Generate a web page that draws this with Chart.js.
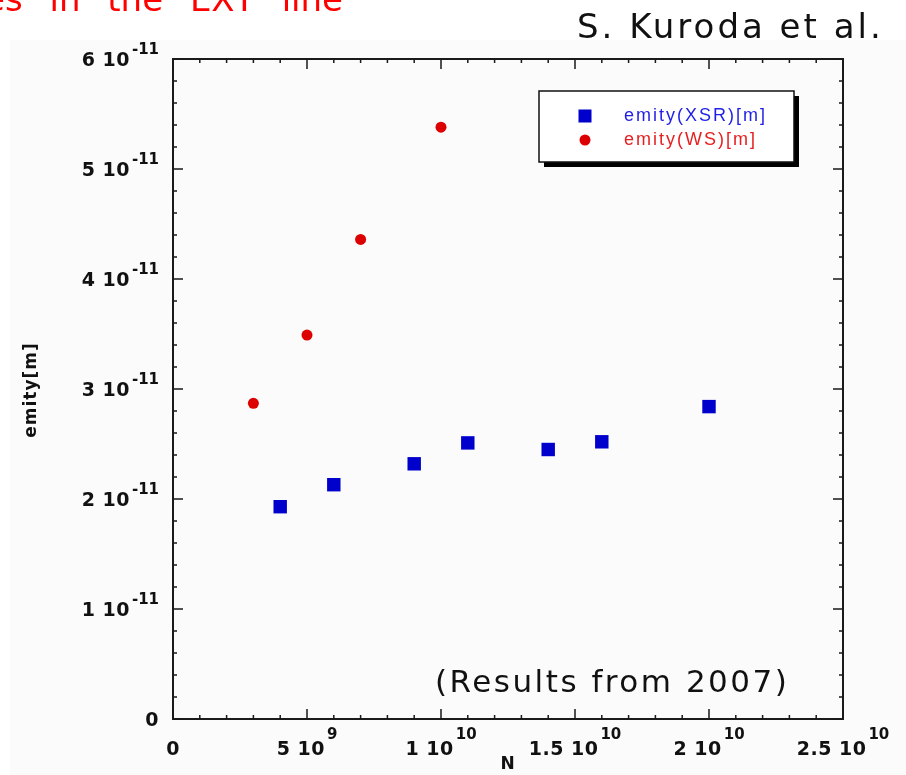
<!DOCTYPE html>
<html>
<head>
<meta charset="utf-8">
<script src="https://cdn.jsdelivr.net/npm/chart.js@4"></script>
<style>
  body { margin: 0; background: #fff; }
</style>
</head>
<body>
<canvas id="emitChart" width="906" height="775"></canvas>
<script>
// emittance vs bunch population
const xsrN = [4e9, 6e9, 9e9, 1.1e10, 1.4e10, 1.6e10, 2e10];
const xsrEmit = [1.93e-11, 2.13e-11, 2.32e-11, 2.51e-11, 2.45e-11, 2.52e-11, 2.84e-11];
const wsN = [3e9, 5e9, 7e9, 1e10];
const wsEmit = [2.87e-11, 3.49e-11, 4.36e-11, 5.38e-11];

const seriesLabels = ['emity(XSR)[m]', 'emity(WS)[m]'];

const xTicks = [0, 5e9, 1e10, 1.5e10, 2e10, 2.5e10];
const xTickLabels = [['0', ''], ['5 10', '9'], ['1 10', '10'], ['1.5 10', '10'], ['2 10', '10'], ['2.5 10', '10']];
const yTicks = [0, 1e-11, 2e-11, 3e-11, 4e-11, 5e-11, 6e-11];
const yTickLabels = [['0', ''], ['1 10', '-11'], ['2 10', '-11'], ['3 10', '-11'], ['4 10', '-11'], ['5 10', '-11'], ['6 10', '-11']];

const MAIN_FONT = 'bold 19px "DejaVu Sans"';
const SUP_FONT = 'bold 15px "DejaVu Sans"';

function textWidth(ctx, s, font, spacing) {
  ctx.font = font;
  ctx.letterSpacing = spacing;
  return ctx.measureText(s).width;
}

// "6 10^-11" style label; x is the right edge (align 'right') or the centre
function drawSciLabel(ctx, main, sup, x, y, supY, align) {
  const wm = textWidth(ctx, main, MAIN_FONT, '0.5px');
  const ws = sup ? textWidth(ctx, sup, SUP_FONT, '0px') + 2 : 0;
  const total = wm + ws;
  const left = align === 'right' ? x - total : x - total / 2;
  ctx.fillStyle = '#111';
  ctx.textAlign = 'left';
  ctx.textBaseline = 'alphabetic';
  ctx.font = MAIN_FONT;
  ctx.letterSpacing = '0.5px';
  ctx.fillText(main, left, y);
  if (sup) {
    ctx.font = SUP_FONT;
    ctx.letterSpacing = '0px';
    ctx.fillText(sup, left + wm + 2, supY);
  }
  ctx.letterSpacing = '0px';
}

const framePlugin = {
  id: 'frame',
  beforeDraw(chart) {
    const ctx = chart.ctx;
    ctx.save();
    ctx.fillStyle = '#fbfbfb';
    ctx.fillRect(10, 40, chart.width - 10, chart.height - 40);
    ctx.restore();
  },
  afterDatasetsDraw(chart) {
    const { ctx, chartArea: a, scales: { x, y } } = chart;
    ctx.save();
    ctx.strokeStyle = '#1a1a1a';
    ctx.lineWidth = 2;
    ctx.strokeRect(a.left, a.top, a.right - a.left, a.bottom - a.top);

    // inward ticks on all four sides
    ctx.lineWidth = 1.5;
    ctx.beginPath();
    for (let i = 0; i <= 25; i++) {
      const px = x.getPixelForValue(i * 1e9);
      const len = i % 5 === 0 ? 10 : 4;
      ctx.moveTo(px, a.bottom); ctx.lineTo(px, a.bottom - len);
      ctx.moveTo(px, a.top); ctx.lineTo(px, a.top + len);
    }
    for (let i = 0; i <= 30; i++) {
      const py = y.getPixelForValue(i * 2e-12);
      const len = i % 5 === 0 ? 10 : 4;
      ctx.moveTo(a.left, py); ctx.lineTo(a.left + len, py);
      ctx.moveTo(a.right, py); ctx.lineTo(a.right - len, py);
    }
    ctx.stroke();

    xTicks.forEach((v, i) => {
      const px = x.getPixelForValue(v);
      drawSciLabel(ctx, xTickLabels[i][0], xTickLabels[i][1], px, a.bottom + 36, a.bottom + 20, 'center');
    });
    yTicks.forEach((v, i) => {
      const py = y.getPixelForValue(v);
      drawSciLabel(ctx, yTickLabels[i][0], yTickLabels[i][1], a.left - 14, py + 7, py - 5, 'right');
    });

    // axis titles
    ctx.fillStyle = '#111';
    ctx.font = 'bold 17px "DejaVu Sans"';
    ctx.letterSpacing = '1px';
    ctx.textAlign = 'center';
    ctx.textBaseline = 'middle';
    ctx.fillText('N', (a.left + a.right) / 2, a.bottom + 46);
    ctx.translate(32, (a.top + a.bottom) / 2);
    ctx.rotate(-Math.PI / 2);
    ctx.fillText('emity[m]', -1, 0);
    ctx.restore();
  },
  afterDraw(chart) {
    const ctx = chart.ctx;
    const ds = chart.data.datasets;
    ctx.save();

    // legend box with drop shadow
    const bx = 539, by = 91, bw = 255, bh = 71;
    ctx.fillStyle = '#000';
    ctx.fillRect(bx + 5, by + 5, bw, bh);
    ctx.fillStyle = '#fff';
    ctx.fillRect(bx, by, bw, bh);
    ctx.strokeStyle = '#111';
    ctx.lineWidth = 1.5;
    ctx.strokeRect(bx, by, bw, bh);

    const rowY = [116, 140];
    const textColors = ['#1f1fe6', '#e61f1f'];
    ds.forEach((d, i) => {
      ctx.fillStyle = d.backgroundColor;
      if (d.pointStyle === 'rect') {
        ctx.fillRect(585 - 6.5, rowY[i] - 6.5, 13, 13);
      } else {
        ctx.beginPath();
        ctx.arc(585, rowY[i], 5.5, 0, Math.PI * 2);
        ctx.fill();
      }
      ctx.fillStyle = textColors[i];
      ctx.font = '18px "Liberation Sans"';
      ctx.letterSpacing = '2px';
      ctx.textAlign = 'left';
      ctx.textBaseline = 'middle';
      ctx.fillText(d.label, 624, rowY[i]);
    });
    ctx.letterSpacing = '0px';

    // annotations around the plot
    ctx.fillStyle = '#ff0000';
    ctx.font = '34px "DejaVu Sans"';
    ctx.wordSpacing = '16px';
    ctx.textAlign = 'right';
    ctx.textBaseline = 'alphabetic';
    ctx.fillText('es in the EXT line', 343, 11);
    ctx.wordSpacing = '0px';

    ctx.fillStyle = '#111';
    ctx.font = '34px "DejaVu Sans"';
    ctx.letterSpacing = '3px';
    ctx.textAlign = 'left';
    ctx.fillText('S. Kuroda et al.', 577, 38);

    ctx.font = '31px "DejaVu Sans"';
    ctx.letterSpacing = '2.5px';
    ctx.fillText('(Results from 2007)', 435, 692);
    ctx.restore();
  }
};

new Chart(document.getElementById('emitChart'), {
  type: 'scatter',
  data: {
    datasets: [
      {
        label: seriesLabels[0],
        data: xsrN.map((n, i) => ({ x: n, y: xsrEmit[i] })),
        pointStyle: 'rect',
        pointRadius: 9.5,
        pointBorderWidth: 0,
        backgroundColor: '#0000cc',
      },
      {
        label: seriesLabels[1],
        data: wsN.map((n, i) => ({ x: n, y: wsEmit[i] })),
        pointStyle: 'circle',
        pointRadius: 5.5,
        pointBorderWidth: 0,
        backgroundColor: '#dd0000',
      },
    ],
  },
  options: {
    responsive: false,
    animation: false,
    layout: { padding: { left: 173, right: 63, top: 59, bottom: 56 } },
    plugins: { legend: { display: false }, tooltip: { enabled: false } },
    scales: {
      x: { type: 'linear', min: 0, max: 2.5e10, display: false },
      y: { type: 'linear', min: 0, max: 6e-11, display: false },
    },
  },
  plugins: [framePlugin],
});
</script>
</body>
</html>
